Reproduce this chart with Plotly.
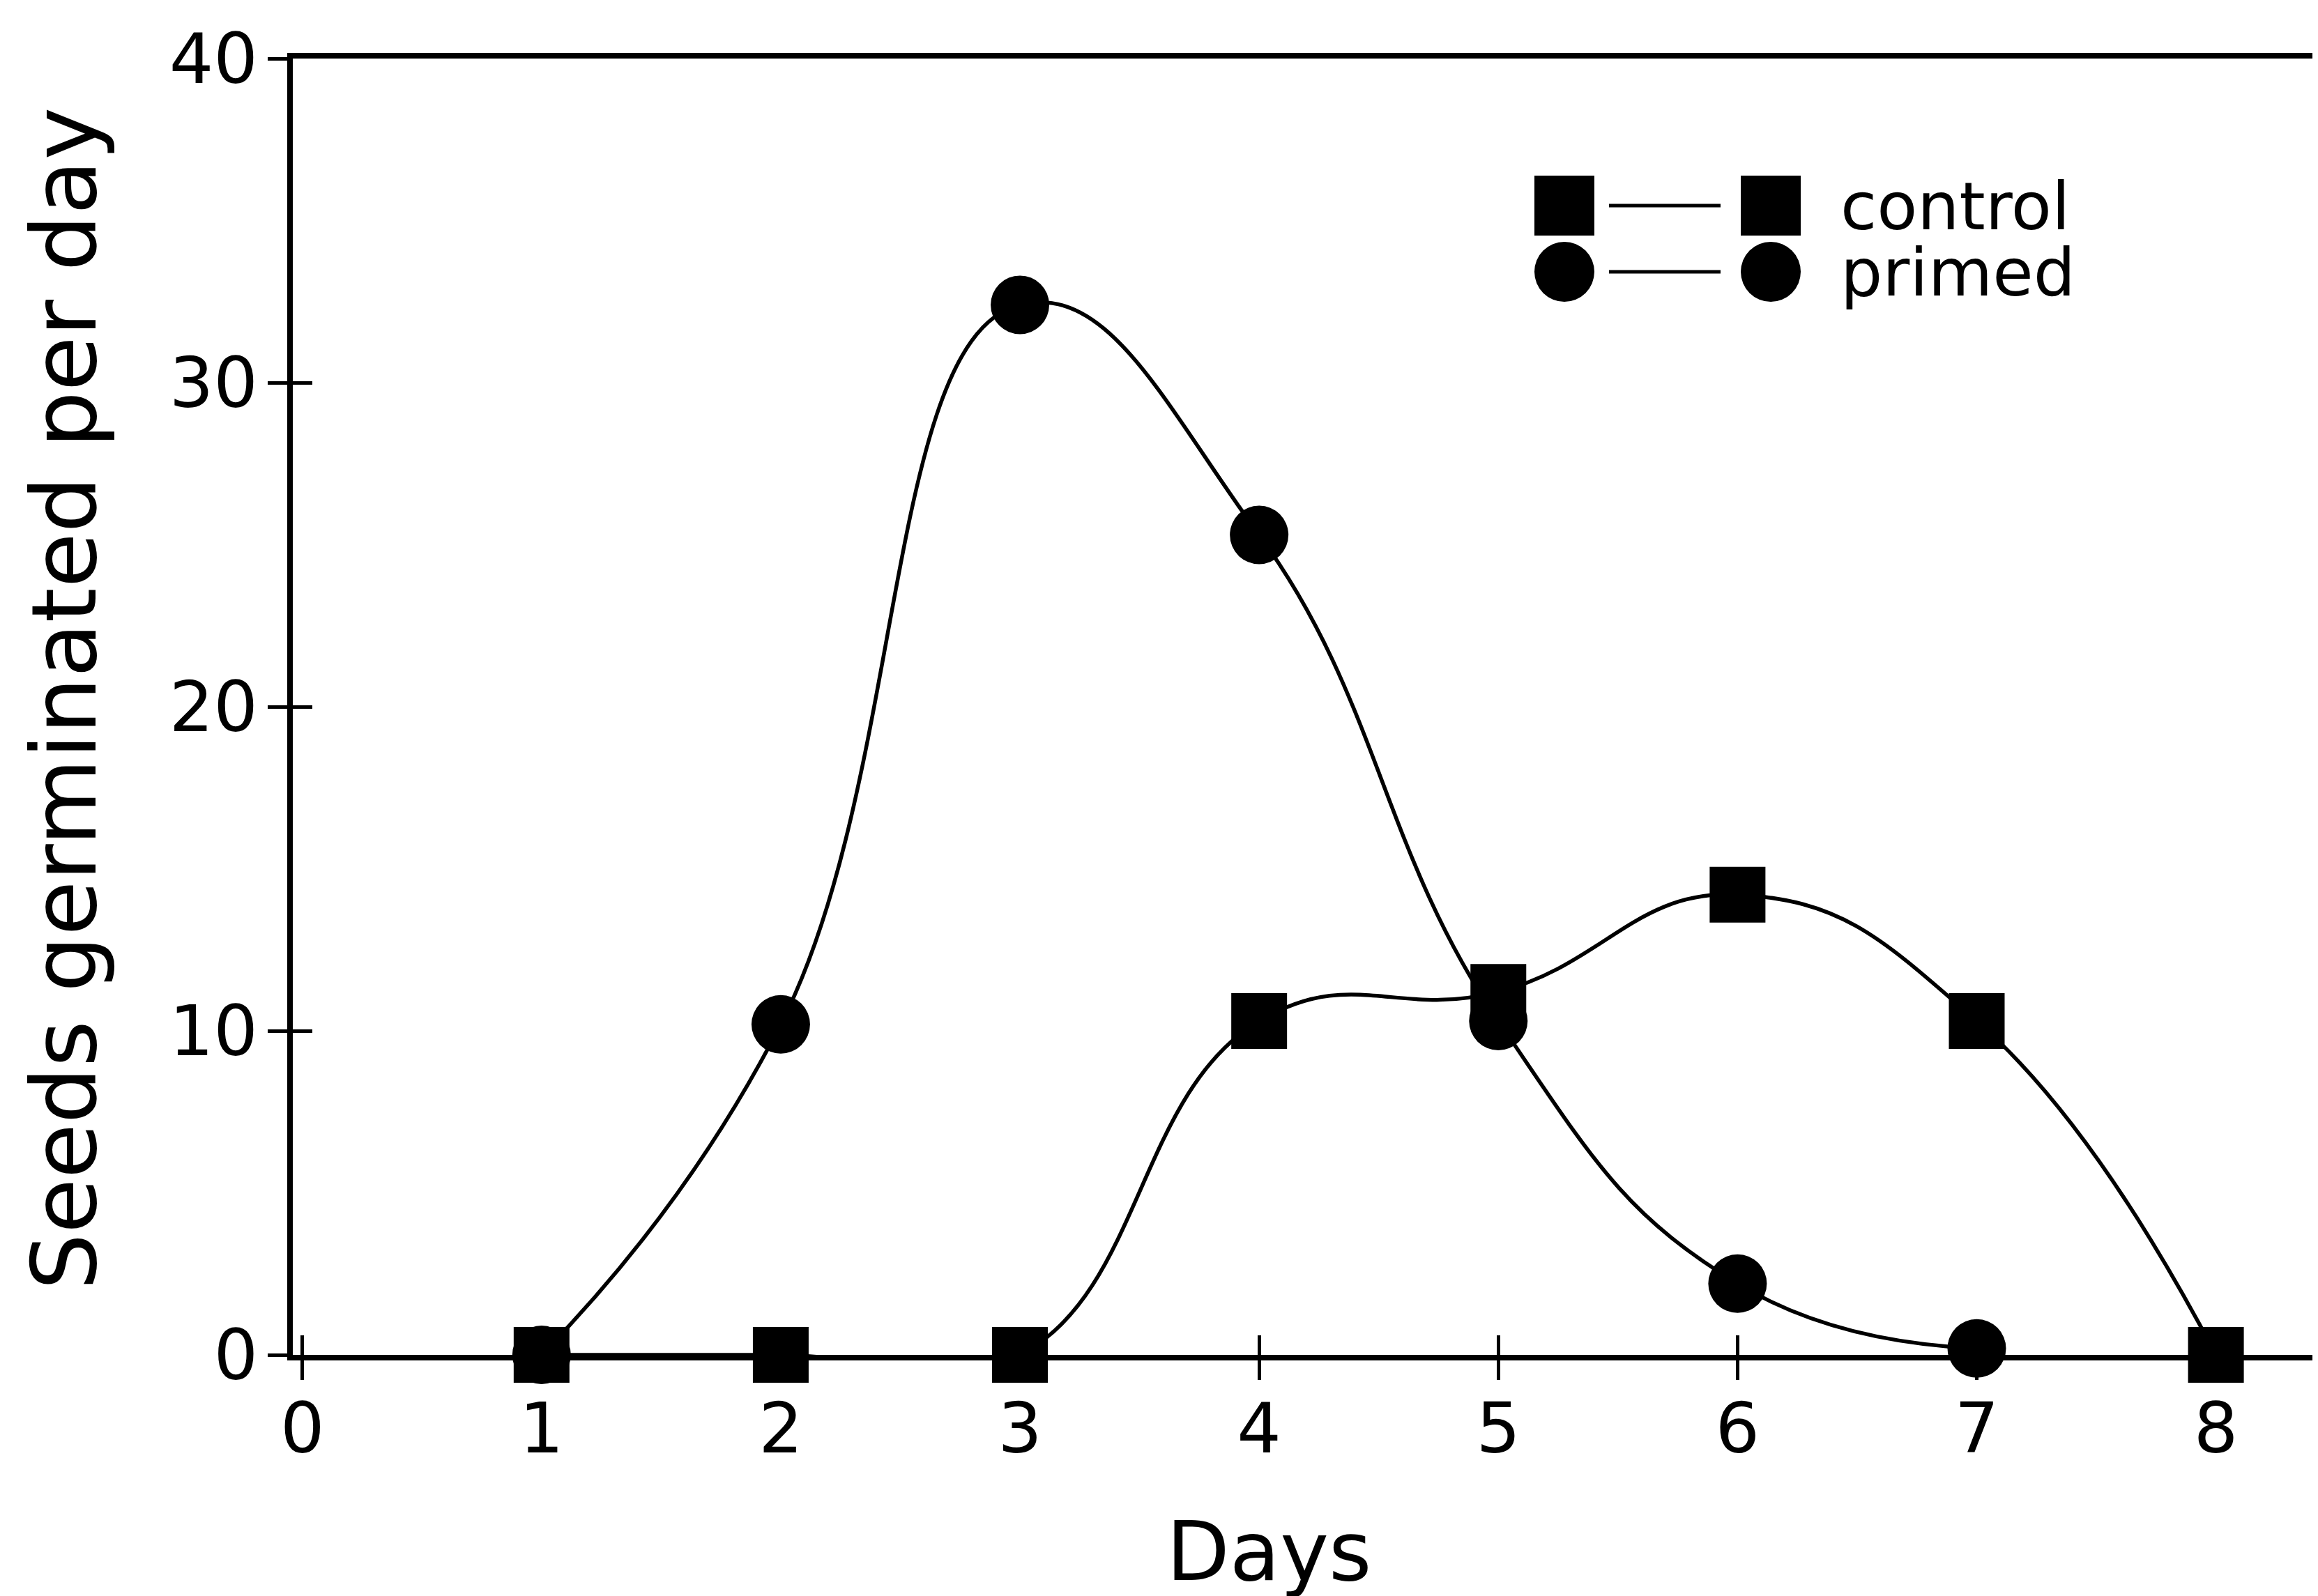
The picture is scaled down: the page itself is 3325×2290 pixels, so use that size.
import plotly.graph_objects as go

# ---- data ----
control_days = [1, 2, 3, 4, 5, 6, 7, 8]
control_vals = [0, 0, 0, 10.3, 11.2, 14.2, 10.3, 0]
primed_days = [1, 2, 3, 4, 5, 6, 7]
primed_vals = [0, 10.2, 32.4, 25.3, 10.3, 2.2, 0.2]
x_ticks = [0, 1, 2, 3, 4, 5, 6, 7, 8]
y_ticks = [0, 10, 20, 30, 40]
series_names = ["control", "primed"]

# ---- layout geometry (pixels) ----
W, H = 3325, 2290
L, R, T, B = 412, 0, 76, 354
PW, PH = W - L - R, H - T - B
FONT = "DejaVu Sans"


def px_x(p):
    return (p - L) / PW


def px_y(p):
    return (H - B - p) / PH


fig = go.Figure()
fig.add_trace(go.Scatter(
    x=primed_days, y=primed_vals, mode="lines+markers", name=series_names[1],
    line=dict(color="black", width=5.5, shape="spline", smoothing=1.3),
    marker=dict(symbol="circle", size=84, color="black"),
    cliponaxis=False, showlegend=False))
fig.add_trace(go.Scatter(
    x=control_days, y=control_vals, mode="lines+markers", name=series_names[0],
    line=dict(color="black", width=5.5, shape="spline", smoothing=1.3),
    marker=dict(symbol="square", size=80, color="black"),
    cliponaxis=False, showlegend=False))
# invisible trace that carries the overlay axes (inner half of the crossing ticks)
fig.add_trace(go.Scatter(
    x=control_days, y=control_vals, xaxis="x2", yaxis="y2", mode="markers",
    marker=dict(opacity=0), hoverinfo="skip", showlegend=False))

xr = [-0.04, 8.45]
yr = [0, 40]
common_tick = dict(ticklen=28, tickwidth=5, tickcolor="black", showgrid=False, zeroline=False)

fig.update_layout(
    width=W, height=H,
    margin=dict(l=L, r=R, t=T, b=B, pad=0),
    paper_bgcolor="white", plot_bgcolor="white",
    font=dict(family=FONT, color="black"),
    xaxis=dict(range=xr, tickmode="array", tickvals=x_ticks, ticktext=[str(v) for v in x_ticks],
               ticks="outside", showline=True, linewidth=8, linecolor="black", mirror=True,
               tickfont=dict(size=100, family=FONT), ticklabelstandoff=-16, **common_tick),
    yaxis=dict(range=yr, tickmode="array", tickvals=y_ticks, ticktext=[str(v) for v in y_ticks],
               ticks="outside", showline=True, linewidth=8, linecolor="black",
               tickfont=dict(size=100, family=FONT), ticklabelstandoff=-6, **common_tick),
    xaxis2=dict(range=xr, overlaying="x", anchor="y", side="bottom", tickmode="array",
                tickvals=x_ticks, ticks="inside", showticklabels=False, showline=False, **common_tick),
    yaxis2=dict(range=yr, overlaying="y", anchor="x", side="left", tickmode="array",
                tickvals=y_ticks, ticks="inside", showticklabels=False, showline=False, **common_tick),
    showlegend=False,
)

# axis titles
fig.add_annotation(text="Seeds germinated per day", xref="paper", yref="paper",
                   x=px_x(84), y=px_y(995), textangle=-90, showarrow=False,
                   xanchor="center", yanchor="middle", font=dict(size=128, family=FONT))
fig.add_annotation(text="Days", xref="paper", yref="paper",
                   x=px_x(1812), y=px_y(2218), showarrow=False,
                   xanchor="center", yanchor="middle", font=dict(size=118, family=FONT))

# hand-drawn style legend:  marker — marker  label
# (label boxes trimmed to the glyph extents so the two tight rows do not collide)
rows = [
    (287, "square", series_names[0], 288, 84, "middle"),
    (382, "circle", series_names[1], 390, 96, "bottom"),
]
for cy, sym, label, ty, th, va in rows:
    for cx in (2236, 2532):
        half = 43
        fig.add_shape(type="rect" if sym == "square" else "circle",
                      xref="paper", yref="paper", xsizemode="pixel", ysizemode="pixel",
                      xanchor=px_x(cx), yanchor=px_y(cy),
                      x0=-half, x1=half, y0=-half, y1=half,
                      fillcolor="black", line=dict(color="black", width=0))
    fig.add_shape(type="line", xref="paper", yref="paper", x0=px_x(2300), x1=px_x(2460),
                  y0=px_y(cy), y1=px_y(cy), line=dict(color="black", width=5))
    fig.add_annotation(text=label, xref="paper", yref="paper", x=px_x(2630), y=px_y(ty),
                       showarrow=False, xanchor="left", yanchor="middle",
                       height=th, valign=va,
                       font=dict(size=95, family=FONT))

# faint edge line of neighbouring panel at the right border
fig.add_shape(type="line", xref="paper", yref="paper", x0=px_x(3322), x1=px_x(3322),
              y0=px_y(275), y1=px_y(700), line=dict(color="#888888", width=3))

fig.write_html("out.html")
